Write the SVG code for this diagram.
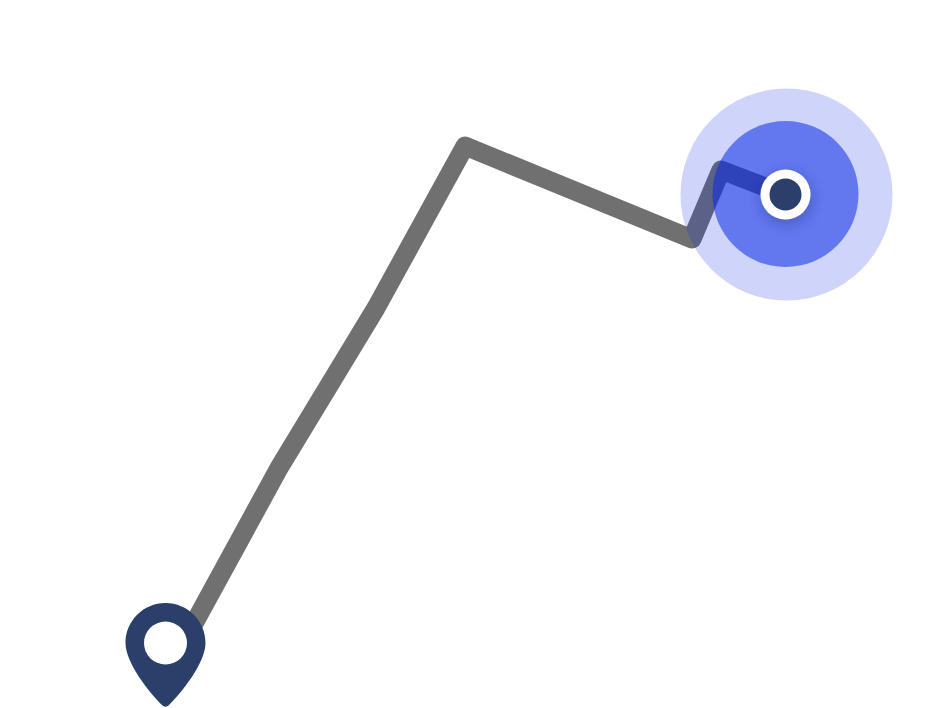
<svg xmlns="http://www.w3.org/2000/svg" width="935" height="708" viewBox="0 0 935 708">
<defs>
<filter id="shadow" x="-60%" y="-60%" width="220%" height="220%"><feDropShadow dx="1" dy="4" stdDeviation="7" flood-color="#1a2560" flood-opacity="0.35"/></filter>
</defs>
<style>
.route{fill:none;stroke:#707070;stroke-width:19;stroke-linejoin:round;stroke-linecap:round}
.halo{fill:#0a28e6}
.navy{fill:#2b3f6b}
</style>
<rect width="935" height="708" fill="#fff"/>
<g id="connectors">
<path class="route" d="M185 640L279 468L376 308L465 146L692 239L721 170L786 195"/>
</g>
<g id="destination">
<circle class="halo" cx="786.500" cy="194.500" r="106" opacity="0.2"/>
<circle class="halo" cx="785.500" cy="194" r="73" opacity="0.54"/>
<circle cx="785.500" cy="194.500" r="25" fill="#fff" filter="url(#shadow)"/>
<circle class="navy" cx="785.500" cy="194.500" r="16"/>
</g>
<g id="origin">
<path class="navy" d="M165.500 603C143.400 603 125.500 620.900 125.500 643C125.500 663 149 692 162 705C164 707.300 167 707.300 169 705C182 692 205.500 663 205.500 643C205.500 620.900 187.600 603 165.500 603Z"/>
<circle cx="165.500" cy="643" r="21.500" fill="#fff"/>
</g>
</svg>
